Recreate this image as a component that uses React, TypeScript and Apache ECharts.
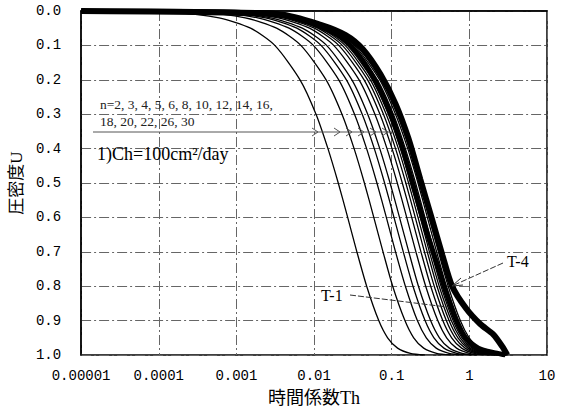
import React, { useEffect, useRef } from "react";
import * as echarts from "echarts";

// Degree of consolidation levels (shared by all theoretical curves)
const U_LEVELS = [0, 0.005, 0.02, 0.05, 0.1, 0.2, 0.3, 0.4, 0.5, 0.6, 0.7, 0.8, 0.9, 0.95, 0.98, 0.995, 1.0];

// Time factor Th read at each U level, one array per n
const TH_N2 = [0.00001, 0.000148, 0.000598, 0.00152, 0.00312, 0.0066, 0.0106, 0.0151, 0.0205, 0.0271, 0.0356, 0.0476, 0.0681, 0.0886, 0.119, 0.174, 0.267];
const TH_N3 = [0.00001, 0.000322, 0.0013, 0.00329, 0.00676, 0.0143, 0.0229, 0.0328, 0.0445, 0.0588, 0.0773, 0.103, 0.148, 0.192, 0.258, 0.378, 0.579];
const TH_N4 = [0.00001, 0.000466, 0.00188, 0.00477, 0.0098, 0.0208, 0.0332, 0.0475, 0.0645, 0.0853, 0.112, 0.15, 0.214, 0.279, 0.374, 0.548, 0.839];
const TH_N5 = [0.00001, 0.000586, 0.00237, 0.006, 0.0123, 0.0261, 0.0417, 0.0597, 0.081, 0.107, 0.141, 0.188, 0.269, 0.35, 0.47, 0.689, 1.05];
const TH_N6 = [0.00001, 0.000689, 0.00278, 0.00705, 0.0145, 0.0307, 0.0491, 0.0702, 0.0953, 0.126, 0.166, 0.221, 0.317, 0.412, 0.553, 0.81, 1.24];
const TH_N8 = [0.00001, 0.000853, 0.00345, 0.00873, 0.0179, 0.038, 0.0608, 0.087, 0.118, 0.156, 0.205, 0.274, 0.392, 0.51, 0.684, 1.0, 1.53];
const TH_N10 = [0.00001, 0.00099, 0.004, 0.0101, 0.0208, 0.0441, 0.0706, 0.101, 0.137, 0.181, 0.238, 0.318, 0.455, 0.592, 0.795, 1.16, 1.78];
const TH_N12 = [0.00001, 0.0011, 0.00444, 0.0112, 0.0231, 0.0489, 0.0783, 0.112, 0.152, 0.201, 0.264, 0.353, 0.505, 0.657, 0.882, 1.29, 1.98];
const TH_N14 = [0.00001, 0.00119, 0.00482, 0.0122, 0.0251, 0.0531, 0.085, 0.122, 0.165, 0.218, 0.287, 0.383, 0.548, 0.713, 0.957, 1.4, 2.15];
const TH_N16 = [0.00001, 0.00127, 0.00514, 0.013, 0.0268, 0.0567, 0.0906, 0.13, 0.176, 0.233, 0.306, 0.409, 0.585, 0.761, 1.02, 1.5, 2.29];
const TH_N18 = [0.00001, 0.00134, 0.00543, 0.0138, 0.0283, 0.0599, 0.0958, 0.137, 0.186, 0.246, 0.323, 0.432, 0.618, 0.804, 1.08, 1.58, 2.42];
const TH_N20 = [0.00001, 0.00141, 0.00569, 0.0144, 0.0296, 0.0628, 0.1, 0.144, 0.195, 0.258, 0.339, 0.453, 0.648, 0.843, 1.13, 1.66, 2.54];
const TH_N22 = [0.00001, 0.00147, 0.00593, 0.015, 0.0309, 0.0654, 0.105, 0.15, 0.203, 0.268, 0.353, 0.471, 0.674, 0.877, 1.18, 1.73, 2.64];
const TH_N26 = [0.00001, 0.00158, 0.00637, 0.0161, 0.0331, 0.0702, 0.112, 0.161, 0.218, 0.288, 0.379, 0.506, 0.724, 0.942, 1.26, 1.85, 2.83];
const TH_N30 = [0.00001, 0.00166, 0.00672, 0.017, 0.035, 0.0741, 0.118, 0.17, 0.23, 0.304, 0.4, 0.534, 0.764, 0.994, 1.33, 1.96, 2.99];

const N_VALUES = [2, 3, 4, 5, 6, 8, 10, 12, 14, 16, 18, 20, 22, 26, 30];
const THEORY = [TH_N2, TH_N3, TH_N4, TH_N5, TH_N6, TH_N8, TH_N10, TH_N12, TH_N14, TH_N16, TH_N18, TH_N20, TH_N22, TH_N26, TH_N30];

// Measured curves (thick bands)
const T1_TH = [0.00001, 0.0028, 0.0105, 0.022, 0.0374, 0.062, 0.097, 0.142, 0.196, 0.272, 0.377, 0.506, 0.68, 0.89, 1.31, 2.16, 2.9];
const T1_U = [0, 0.006, 0.04, 0.075, 0.127, 0.205, 0.3, 0.41, 0.52, 0.63, 0.73, 0.82, 0.9, 0.95, 0.98, 0.994, 1.0];
const T4_TH = [0.00001, 0.0037, 0.0122, 0.0255, 0.042, 0.072, 0.112, 0.164, 0.234, 0.325, 0.45, 0.6, 0.91, 1.38, 2.03, 2.65, 3.08];
const T4_U = [0, 0.01, 0.04, 0.07, 0.11, 0.185, 0.27, 0.37, 0.49, 0.6, 0.71, 0.8, 0.865, 0.91, 0.94, 0.975, 1.0];

const X_TICK_LABELS = ["0.00001", "0.0001", "0.001", "0.01", "0.1", "1", "10"];

const SERIF = "'Liberation Serif', 'Noto Sans CJK JP', serif";
const MONO = "'Liberation Mono', monospace";

export default function App() {
  const ref = useRef<HTMLDivElement>(null);

  useEffect(() => {
    if (!ref.current) return;
    const chart = echarts.init(ref.current, undefined, { renderer: "svg" });

    const gridLine = {
      show: true,
      lineStyle: { color: "#666", width: 1, type: [10, 3, 2, 3] as any },
    };

    const series: any[] = THEORY.map((th, i) => ({
      name: "n=" + N_VALUES[i],
      type: "line",
      data: th.map((t, k) => [t, U_LEVELS[k]]),
      showSymbol: false,
      smooth: 0.25,
      lineStyle: { color: "#000", width: 1.3 },
      z: 3,
    }));
    series.push({
      name: "T-1",
      type: "line",
      data: T1_TH.map((t, k) => [t, T1_U[k]]),
      showSymbol: false,
      smooth: 0.25,
      lineStyle: { color: "#000", width: 5 },
      z: 4,
    });
    series.push({
      name: "T-4",
      type: "line",
      data: T4_TH.map((t, k) => [t, T4_U[k]]),
      showSymbol: false,
      smooth: 0.25,
      lineStyle: { color: "#000", width: 6 },
      z: 4,
    });

    const chevrons = [318, 340, 352, 364, 376, 388].map((x) => ({
      type: "polyline",
      shape: { points: [[x - 6, 128], [x, 132], [x - 6, 136]] },
      style: { stroke: "#555", lineWidth: 1, fill: "none" },
      z: 10,
    }));

    chart.setOption({
      animation: false,
      backgroundColor: "#fff",
      grid: {
        left: 80,
        right: 20,
        top: 11,
        bottom: 55,
        show: true,
        borderColor: "#000",
        borderWidth: 1.5,
        backgroundColor: "transparent",
      },
      xAxis: {
        type: "log",
        logBase: 10,
        min: 0.00001,
        max: 10,
        name: "時間係数Th",
        nameLocation: "middle",
        nameGap: 34,
        nameTextStyle: { fontFamily: SERIF, fontSize: 18, color: "#000" },
        axisLine: { show: true, lineStyle: { color: "#000", width: 1.5 } },
        axisTick: { show: false },
        axisLabel: {
          margin: 14,
          fontFamily: MONO,
          fontSize: 14,
          color: "#000",
          formatter: (v: number) => {
            const i = Math.round(Math.log10(v)) + 5;
            return X_TICK_LABELS[i] ?? "";
          },
        },
        splitLine: gridLine,
      },
      yAxis: {
        type: "value",
        inverse: true,
        min: 0,
        max: 1,
        interval: 0.1,
        name: "圧密度U",
        nameLocation: "middle",
        nameRotate: 90,
        nameGap: 55,
        nameTextStyle: { fontFamily: SERIF, fontSize: 17, color: "#000" },
        axisLine: { show: true, lineStyle: { color: "#000", width: 1.5 } },
        axisTick: { show: false },
        axisLabel: {
          margin: 20,
          fontFamily: MONO,
          fontSize: 14,
          color: "#000",
          formatter: (v: number) => v.toFixed(1),
        },
        splitLine: gridLine,
      },
      graphic: [
        {
          type: "text",
          left: 100,
          top: 98,
          style: { text: "n=2, 3, 4, 5, 6, 8, 10, 12, 14, 16,", font: `13.5px ${SERIF}`, fill: "#222" },
          z: 10,
        },
        {
          type: "text",
          left: 100,
          top: 115,
          style: { text: "18, 20, 22, 26, 30", font: `13.5px ${SERIF}`, fill: "#222" },
          z: 10,
        },
        {
          type: "line",
          shape: { x1: 93, y1: 132, x2: 392, y2: 132 },
          style: { stroke: "#555", lineWidth: 1 },
          z: 10,
        },
        ...chevrons,
        {
          type: "text",
          left: 97,
          top: 145,
          style: { text: "1)Ch=100cm²/day", font: `18px ${SERIF}`, fill: "#000" },
          z: 10,
        },
        {
          type: "text",
          left: 321,
          top: 287,
          style: { text: "T-1", font: `16px ${SERIF}`, fill: "#000" },
          z: 10,
        },
        {
          type: "line",
          shape: { x1: 350, y1: 295, x2: 447, y2: 307 },
          style: { stroke: "#333", lineWidth: 1, lineDash: [6, 2] },
          z: 10,
        },
        {
          type: "text",
          left: 507,
          top: 253,
          style: { text: "T-4", font: `16px ${SERIF}`, fill: "#000" },
          z: 10,
        },
        {
          type: "line",
          shape: { x1: 503, y1: 263, x2: 452, y2: 286 },
          style: { stroke: "#333", lineWidth: 1, lineDash: [6, 2] },
          z: 10,
        },
        {
          type: "polyline",
          shape: { points: [[461, 278], [452, 286], [463, 285]] },
          style: { stroke: "#333", lineWidth: 1, fill: "none" },
          z: 10,
        },
      ],
      series,
    });

    return () => chart.dispose();
  }, []);

  return (
    <div
      ref={ref}
      style={{ position: "fixed", left: 0, top: 0, width: 567, height: 412, background: "#fff" }}
    />
  );
}
